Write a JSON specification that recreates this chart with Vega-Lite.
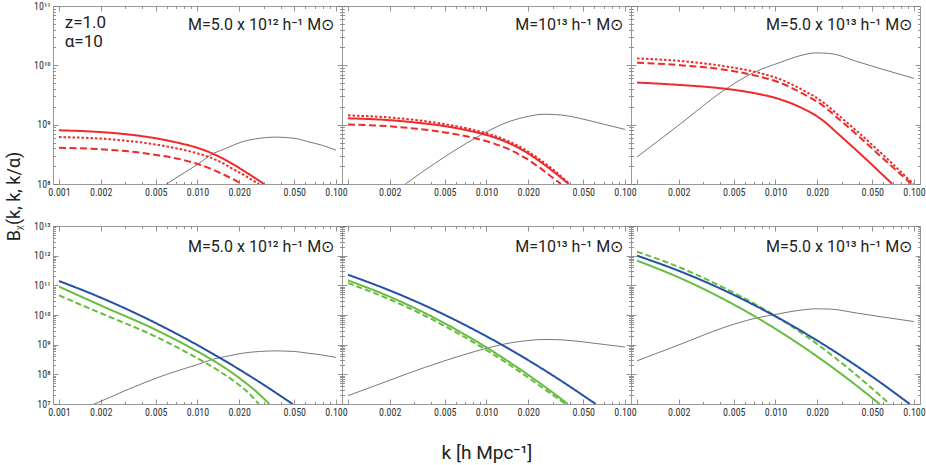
{
  "$schema": "https://vega.github.io/schema/vega-lite/v6.json",
  "padding": {"left": 4, "top": 0, "right": 0, "bottom": 0},
  "columns": 3,
  "spacing": {"row": 42, "column": 0},
  "bounds": "flush",
  "datasets": {
    "gray": [
      {"col": 1, "k": 0.001, "B": 3.98e6}, {"col": 1, "k": 0.0018, "B": 1.0e7}, {"col": 1, "k": 0.003, "B": 2.82e7},
      {"col": 1, "k": 0.006, "B": 1.0e8}, {"col": 1, "k": 0.01, "B": 2.14e8}, {"col": 1, "k": 0.0131, "B": 3.29e8},
      {"col": 1, "k": 0.016, "B": 3.98e8}, {"col": 1, "k": 0.021, "B": 5.13e8}, {"col": 1, "k": 0.028, "B": 5.89e8},
      {"col": 1, "k": 0.0363, "B": 6.17e8}, {"col": 1, "k": 0.05, "B": 5.89e8}, {"col": 1, "k": 0.0635, "B": 5.13e8},
      {"col": 1, "k": 0.08, "B": 4.47e8}, {"col": 1, "k": 0.1, "B": 3.72e8},
      {"col": 2, "k": 0.001, "B": 1.91e7}, {"col": 2, "k": 0.002, "B": 6.31e7}, {"col": 2, "k": 0.0026, "B": 1.0e8},
      {"col": 2, "k": 0.00494, "B": 2.82e8}, {"col": 2, "k": 0.0081, "B": 5.75e8}, {"col": 2, "k": 0.0149, "B": 1.15e9},
      {"col": 2, "k": 0.02, "B": 1.38e9}, {"col": 2, "k": 0.026, "B": 1.5e9}, {"col": 2, "k": 0.035, "B": 1.45e9},
      {"col": 2, "k": 0.0506, "B": 1.23e9}, {"col": 2, "k": 0.07, "B": 1.02e9}, {"col": 2, "k": 0.1, "B": 8.32e8},
      {"col": 3, "k": 0.001, "B": 2.85e8}, {"col": 3, "k": 0.0021, "B": 1.07e9}, {"col": 3, "k": 0.00417, "B": 3.69e9},
      {"col": 3, "k": 0.007, "B": 7.59e9}, {"col": 3, "k": 0.0107, "B": 1.11e10}, {"col": 3, "k": 0.015, "B": 1.45e10},
      {"col": 3, "k": 0.0197, "B": 1.62e10}, {"col": 3, "k": 0.025, "B": 1.58e10}, {"col": 3, "k": 0.0383, "B": 1.17e10},
      {"col": 3, "k": 0.06, "B": 8.51e9}, {"col": 3, "k": 0.1, "B": 6.03e9}
    ],
    "curves": [
      {"row": "top", "col": 1, "series": "solid", "k": 0.001, "B": 8.04e8},
      {"row": "top", "col": 1, "series": "solid", "k": 0.002, "B": 7.5e8},
      {"row": "top", "col": 1, "series": "solid", "k": 0.00316, "B": 6.84e8},
      {"row": "top", "col": 1, "series": "solid", "k": 0.00501, "B": 5.89e8},
      {"row": "top", "col": 1, "series": "solid", "k": 0.00708, "B": 5.01e8},
      {"row": "top", "col": 1, "series": "solid", "k": 0.00933, "B": 4.27e8},
      {"row": "top", "col": 1, "series": "solid", "k": 0.01148, "B": 3.63e8},
      {"row": "top", "col": 1, "series": "solid", "k": 0.0138, "B": 3.02e8},
      {"row": "top", "col": 1, "series": "solid", "k": 0.0178, "B": 2.19e8},
      {"row": "top", "col": 1, "series": "solid", "k": 0.0234, "B": 1.48e8},
      {"row": "top", "col": 1, "series": "solid", "k": 0.0302, "B": 1.0e8},
      {"row": "top", "col": 1, "series": "dotted", "k": 0.001, "B": 6.17e8},
      {"row": "top", "col": 1, "series": "dotted", "k": 0.002, "B": 5.82e8},
      {"row": "top", "col": 1, "series": "dotted", "k": 0.00316, "B": 5.31e8},
      {"row": "top", "col": 1, "series": "dotted", "k": 0.00501, "B": 4.62e8},
      {"row": "top", "col": 1, "series": "dotted", "k": 0.00708, "B": 3.98e8},
      {"row": "top", "col": 1, "series": "dotted", "k": 0.00933, "B": 3.43e8},
      {"row": "top", "col": 1, "series": "dotted", "k": 0.01175, "B": 2.92e8},
      {"row": "top", "col": 1, "series": "dotted", "k": 0.01413, "B": 2.45e8},
      {"row": "top", "col": 1, "series": "dotted", "k": 0.0178, "B": 1.82e8},
      {"row": "top", "col": 1, "series": "dotted", "k": 0.0224, "B": 1.35e8},
      {"row": "top", "col": 1, "series": "dotted", "k": 0.0277, "B": 1.0e8},
      {"row": "top", "col": 1, "series": "dashed", "k": 0.001, "B": 4.07e8},
      {"row": "top", "col": 1, "series": "dashed", "k": 0.002, "B": 3.85e8},
      {"row": "top", "col": 1, "series": "dashed", "k": 0.00316, "B": 3.55e8},
      {"row": "top", "col": 1, "series": "dashed", "k": 0.00501, "B": 3.09e8},
      {"row": "top", "col": 1, "series": "dashed", "k": 0.00708, "B": 2.69e8},
      {"row": "top", "col": 1, "series": "dashed", "k": 0.00933, "B": 2.29e8},
      {"row": "top", "col": 1, "series": "dashed", "k": 0.01175, "B": 1.91e8},
      {"row": "top", "col": 1, "series": "dashed", "k": 0.01479, "B": 1.51e8},
      {"row": "top", "col": 1, "series": "dashed", "k": 0.0178, "B": 1.23e8},
      {"row": "top", "col": 1, "series": "dashed", "k": 0.0209, "B": 1.0e8},
      {"row": "top", "col": 2, "series": "solid", "k": 0.001, "B": 1.28e9},
      {"row": "top", "col": 2, "series": "solid", "k": 0.002, "B": 1.19e9},
      {"row": "top", "col": 2, "series": "solid", "k": 0.00316, "B": 1.08e9},
      {"row": "top", "col": 2, "series": "solid", "k": 0.00501, "B": 9.44e8},
      {"row": "top", "col": 2, "series": "solid", "k": 0.00794, "B": 7.67e8},
      {"row": "top", "col": 2, "series": "solid", "k": 0.01122, "B": 6.17e8},
      {"row": "top", "col": 2, "series": "solid", "k": 0.01479, "B": 4.79e8},
      {"row": "top", "col": 2, "series": "solid", "k": 0.01905, "B": 3.51e8},
      {"row": "top", "col": 2, "series": "solid", "k": 0.024, "B": 2.45e8},
      {"row": "top", "col": 2, "series": "solid", "k": 0.0302, "B": 1.64e8},
      {"row": "top", "col": 2, "series": "solid", "k": 0.0392, "B": 1.0e8},
      {"row": "top", "col": 2, "series": "dotted", "k": 0.001, "B": 1.435e9},
      {"row": "top", "col": 2, "series": "dotted", "k": 0.002, "B": 1.32e9},
      {"row": "top", "col": 2, "series": "dotted", "k": 0.00316, "B": 1.19e9},
      {"row": "top", "col": 2, "series": "dotted", "k": 0.00501, "B": 1.02e9},
      {"row": "top", "col": 2, "series": "dotted", "k": 0.00794, "B": 8.22e8},
      {"row": "top", "col": 2, "series": "dotted", "k": 0.01122, "B": 6.61e8},
      {"row": "top", "col": 2, "series": "dotted", "k": 0.01479, "B": 5.13e8},
      {"row": "top", "col": 2, "series": "dotted", "k": 0.01905, "B": 3.76e8},
      {"row": "top", "col": 2, "series": "dotted", "k": 0.024, "B": 2.63e8},
      {"row": "top", "col": 2, "series": "dotted", "k": 0.0302, "B": 1.76e8},
      {"row": "top", "col": 2, "series": "dotted", "k": 0.0398, "B": 1.0e8},
      {"row": "top", "col": 2, "series": "dashed", "k": 0.001, "B": 1.01e9},
      {"row": "top", "col": 2, "series": "dashed", "k": 0.002, "B": 9.38e8},
      {"row": "top", "col": 2, "series": "dashed", "k": 0.00316, "B": 8.51e8},
      {"row": "top", "col": 2, "series": "dashed", "k": 0.00501, "B": 7.41e8},
      {"row": "top", "col": 2, "series": "dashed", "k": 0.00794, "B": 6.03e8},
      {"row": "top", "col": 2, "series": "dashed", "k": 0.01122, "B": 4.84e8},
      {"row": "top", "col": 2, "series": "dashed", "k": 0.01479, "B": 3.76e8},
      {"row": "top", "col": 2, "series": "dashed", "k": 0.01905, "B": 2.75e8},
      {"row": "top", "col": 2, "series": "dashed", "k": 0.024, "B": 1.91e8},
      {"row": "top", "col": 2, "series": "dashed", "k": 0.0288, "B": 1.38e8},
      {"row": "top", "col": 2, "series": "dashed", "k": 0.0345, "B": 1.0e8},
      {"row": "top", "col": 3, "series": "dotted", "k": 0.001, "B": 1.31e10},
      {"row": "top", "col": 3, "series": "dotted", "k": 0.002, "B": 1.19e10},
      {"row": "top", "col": 3, "series": "dotted", "k": 0.00417, "B": 9.77e9},
      {"row": "top", "col": 3, "series": "dotted", "k": 0.00708, "B": 7.76e9},
      {"row": "top", "col": 3, "series": "dotted", "k": 0.0107, "B": 5.89e9},
      {"row": "top", "col": 3, "series": "dotted", "k": 0.01585, "B": 3.8e9},
      {"row": "top", "col": 3, "series": "dotted", "k": 0.022, "B": 2.4e9},
      {"row": "top", "col": 3, "series": "dotted", "k": 0.0288, "B": 1.41e9},
      {"row": "top", "col": 3, "series": "dotted", "k": 0.0383, "B": 7.94e8},
      {"row": "top", "col": 3, "series": "dotted", "k": 0.0631, "B": 2.75e8},
      {"row": "top", "col": 3, "series": "dotted", "k": 0.099, "B": 1.0e8},
      {"row": "top", "col": 3, "series": "dashed", "k": 0.001, "B": 1.11e10},
      {"row": "top", "col": 3, "series": "dashed", "k": 0.002, "B": 1.01e10},
      {"row": "top", "col": 3, "series": "dashed", "k": 0.00417, "B": 8.51e9},
      {"row": "top", "col": 3, "series": "dashed", "k": 0.00708, "B": 6.76e9},
      {"row": "top", "col": 3, "series": "dashed", "k": 0.0107, "B": 5.13e9},
      {"row": "top", "col": 3, "series": "dashed", "k": 0.01585, "B": 3.31e9},
      {"row": "top", "col": 3, "series": "dashed", "k": 0.022, "B": 2.09e9},
      {"row": "top", "col": 3, "series": "dashed", "k": 0.0288, "B": 1.23e9},
      {"row": "top", "col": 3, "series": "dashed", "k": 0.0383, "B": 6.92e8},
      {"row": "top", "col": 3, "series": "dashed", "k": 0.0631, "B": 2.4e8},
      {"row": "top", "col": 3, "series": "dashed", "k": 0.096, "B": 1.0e8},
      {"row": "top", "col": 3, "series": "solid", "k": 0.001, "B": 5.13e9},
      {"row": "top", "col": 3, "series": "solid", "k": 0.002, "B": 4.68e9},
      {"row": "top", "col": 3, "series": "solid", "k": 0.00417, "B": 4.07e9},
      {"row": "top", "col": 3, "series": "solid", "k": 0.00708, "B": 3.39e9},
      {"row": "top", "col": 3, "series": "solid", "k": 0.0107, "B": 2.69e9},
      {"row": "top", "col": 3, "series": "solid", "k": 0.01585, "B": 1.86e9},
      {"row": "top", "col": 3, "series": "solid", "k": 0.01905, "B": 1.48e9},
      {"row": "top", "col": 3, "series": "solid", "k": 0.022, "B": 1.175e9},
      {"row": "top", "col": 3, "series": "solid", "k": 0.0282, "B": 7.08e8},
      {"row": "top", "col": 3, "series": "solid", "k": 0.0383, "B": 3.72e8},
      {"row": "top", "col": 3, "series": "solid", "k": 0.0697, "B": 1.0e8},
      {"row": "bottom", "col": 1, "series": "blue", "k": 0.001, "B": 1.4e11},
      {"row": "bottom", "col": 1, "series": "blue", "k": 0.001995, "B": 3.88e10},
      {"row": "bottom", "col": 1, "series": "blue", "k": 0.00398, "B": 8.99e9},
      {"row": "bottom", "col": 1, "series": "blue", "k": 0.00794, "B": 1.74e9},
      {"row": "bottom", "col": 1, "series": "blue", "k": 0.01585, "B": 2.82e8},
      {"row": "bottom", "col": 1, "series": "blue", "k": 0.0282, "B": 5.38e7},
      {"row": "bottom", "col": 1, "series": "blue", "k": 0.0486, "B": 1.0e7},
      {"row": "bottom", "col": 1, "series": "green", "k": 0.001, "B": 9.02e10},
      {"row": "bottom", "col": 1, "series": "green", "k": 0.00205, "B": 2.0e10},
      {"row": "bottom", "col": 1, "series": "green", "k": 0.0049, "B": 3.31e9},
      {"row": "bottom", "col": 1, "series": "green", "k": 0.0108, "B": 4.79e8},
      {"row": "bottom", "col": 1, "series": "green", "k": 0.01585, "B": 1.63e8},
      {"row": "bottom", "col": 1, "series": "green", "k": 0.0212, "B": 6.17e7},
      {"row": "bottom", "col": 1, "series": "green", "k": 0.0263, "B": 2.75e7},
      {"row": "bottom", "col": 1, "series": "green", "k": 0.033, "B": 1.0e7},
      {"row": "bottom", "col": 1, "series": "greendash", "k": 0.001, "B": 4.57e10},
      {"row": "bottom", "col": 1, "series": "greendash", "k": 0.00205, "B": 1.1e10},
      {"row": "bottom", "col": 1, "series": "greendash", "k": 0.0049, "B": 1.95e9},
      {"row": "bottom", "col": 1, "series": "greendash", "k": 0.0108, "B": 2.82e8},
      {"row": "bottom", "col": 1, "series": "greendash", "k": 0.01445, "B": 1.26e8},
      {"row": "bottom", "col": 1, "series": "greendash", "k": 0.0188, "B": 5.43e7},
      {"row": "bottom", "col": 1, "series": "greendash", "k": 0.0229, "B": 2.57e7},
      {"row": "bottom", "col": 1, "series": "greendash", "k": 0.0277, "B": 1.0e7},
      {"row": "bottom", "col": 2, "series": "blue", "k": 0.001, "B": 2.27e11},
      {"row": "bottom", "col": 2, "series": "blue", "k": 0.001995, "B": 6.76e10},
      {"row": "bottom", "col": 2, "series": "blue", "k": 0.00398, "B": 1.67e10},
      {"row": "bottom", "col": 2, "series": "blue", "k": 0.00794, "B": 3.39e9},
      {"row": "bottom", "col": 2, "series": "blue", "k": 0.01585, "B": 5.71e8},
      {"row": "bottom", "col": 2, "series": "blue", "k": 0.0316, "B": 7.94e7},
      {"row": "bottom", "col": 2, "series": "blue", "k": 0.0614, "B": 1.0e7},
      {"row": "bottom", "col": 2, "series": "green", "k": 0.001, "B": 1.47e11},
      {"row": "bottom", "col": 2, "series": "green", "k": 0.001995, "B": 4.15e10},
      {"row": "bottom", "col": 2, "series": "green", "k": 0.00398, "B": 9.1e9},
      {"row": "bottom", "col": 2, "series": "green", "k": 0.00794, "B": 1.54e9},
      {"row": "bottom", "col": 2, "series": "green", "k": 0.01585, "B": 2.02e8},
      {"row": "bottom", "col": 2, "series": "green", "k": 0.0251, "B": 4.53e7},
      {"row": "bottom", "col": 2, "series": "green", "k": 0.0387, "B": 1.0e7},
      {"row": "bottom", "col": 2, "series": "greendash", "k": 0.001, "B": 1.19e11},
      {"row": "bottom", "col": 2, "series": "greendash", "k": 0.001995, "B": 3.37e10},
      {"row": "bottom", "col": 2, "series": "greendash", "k": 0.00398, "B": 7.4e9},
      {"row": "bottom", "col": 2, "series": "greendash", "k": 0.00794, "B": 1.25e9},
      {"row": "bottom", "col": 2, "series": "greendash", "k": 0.01585, "B": 1.64e8},
      {"row": "bottom", "col": 2, "series": "greendash", "k": 0.0251, "B": 3.68e7},
      {"row": "bottom", "col": 2, "series": "greendash", "k": 0.0372, "B": 1.0e7},
      {"row": "bottom", "col": 3, "series": "greendash", "k": 0.001, "B": 1.36e12},
      {"row": "bottom", "col": 3, "series": "greendash", "k": 0.001995, "B": 4.17e11},
      {"row": "bottom", "col": 3, "series": "greendash", "k": 0.00398, "B": 9.55e10},
      {"row": "bottom", "col": 3, "series": "greendash", "k": 0.00794, "B": 1.74e10},
      {"row": "bottom", "col": 3, "series": "greendash", "k": 0.01585, "B": 2.28e9},
      {"row": "bottom", "col": 3, "series": "greendash", "k": 0.0316, "B": 2.0e8},
      {"row": "bottom", "col": 3, "series": "greendash", "k": 0.0667, "B": 1.0e7},
      {"row": "bottom", "col": 3, "series": "blue", "k": 0.001, "B": 1.0e12},
      {"row": "bottom", "col": 3, "series": "blue", "k": 0.001995, "B": 3.11e11},
      {"row": "bottom", "col": 3, "series": "blue", "k": 0.00398, "B": 7.85e10},
      {"row": "bottom", "col": 3, "series": "blue", "k": 0.00794, "B": 1.6e10},
      {"row": "bottom", "col": 3, "series": "blue", "k": 0.01585, "B": 2.65e9},
      {"row": "bottom", "col": 3, "series": "blue", "k": 0.0316, "B": 3.54e8},
      {"row": "bottom", "col": 3, "series": "blue", "k": 0.0562, "B": 5.64e7},
      {"row": "bottom", "col": 3, "series": "blue", "k": 0.0931, "B": 1.0e7},
      {"row": "bottom", "col": 3, "series": "green", "k": 0.001, "B": 6.81e11},
      {"row": "bottom", "col": 3, "series": "green", "k": 0.001995, "B": 1.86e11},
      {"row": "bottom", "col": 3, "series": "green", "k": 0.00398, "B": 3.96e10},
      {"row": "bottom", "col": 3, "series": "green", "k": 0.00794, "B": 6.56e9},
      {"row": "bottom", "col": 3, "series": "green", "k": 0.01585, "B": 8.43e8},
      {"row": "bottom", "col": 3, "series": "green", "k": 0.0316, "B": 8.41e7},
      {"row": "bottom", "col": 3, "series": "green", "k": 0.0565, "B": 1.0e7}
    ],
    "notes": [
      {"row": "top", "col": 1, "label": "M=5.0 x 10¹²  h⁻¹ M⊙", "k": 0.097, "B": 4.0e10},
      {"row": "top", "col": 2, "label": "M=10¹³  h⁻¹ M⊙", "k": 0.097, "B": 4.0e10},
      {"row": "top", "col": 3, "label": "M=5.0 x 10¹³  h⁻¹ M⊙", "k": 0.097, "B": 4.0e10},
      {"row": "bottom", "col": 1, "label": "M=5.0 x 10¹²  h⁻¹ M⊙", "k": 0.097, "B": 1.3e12},
      {"row": "bottom", "col": 2, "label": "M=10¹³  h⁻¹ M⊙", "k": 0.097, "B": 1.3e12},
      {"row": "bottom", "col": 3, "label": "M=5.0 x 10¹³  h⁻¹ M⊙", "k": 0.097, "B": 1.3e12}
    ],
    "params": [
      {"label": "z=1.0", "k": 0.0011, "B": 4.3e10},
      {"label": "α=10", "k": 0.0011, "B": 2.06e10}
    ]
  },
  "concat": [
    {
      "width": 289, "height": 178,
      "resolve": {"axis": {"x": "independent", "y": "independent"}},
      "layer": [
        {
          "data": {"name": "gray"},
          "transform": [{"filter": "datum.col == 1"}],
          "mark": {"type": "line", "color": "#555555", "strokeWidth": 0.8, "clip": true, "interpolate": "monotone"},
          "encoding": {
            "x": {"field": "k", "type": "quantitative", "scale": {"type": "log", "domain": [0.000905, 0.1105], "nice": false},
              "axis": {"orient": "bottom", "values": [0.001, 0.002, 0.005, 0.01, 0.02, 0.05, 0.1], "format": ".3f", "tickSize": -5, "labelPadding": 8, "title": null}},
            "y": {"field": "B", "type": "quantitative", "scale": {"type": "log", "domain": [1e8, 1e11], "nice": false},
              "axis": {"orient": "left", "values": [1e8, 1e9, 1e10, 1e11], "tickSize": -5, "labelPadding": 8, "title": null,
                "labelExpr": "'10' + ['⁰','¹','²','³','⁴','⁵','⁶','⁷','⁸','⁹','¹⁰','¹¹','¹²','¹³'][round(log(datum.value)/LN10)]"}}
          }
        },
        {
          "data": {"name": "curves"},
          "transform": [{"filter": "datum.row == 'top' && datum.col == 1"}],
          "mark": {"type": "line", "strokeWidth": 2, "clip": true, "interpolate": "monotone"},
          "encoding": {
            "x": {"field": "k", "type": "quantitative", "scale": {"type": "log", "domain": [0.000905, 0.1105], "nice": false},
              "axis": {"orient": "top", "values": [0.001, 0.002, 0.005, 0.01, 0.02, 0.05, 0.1], "tickSize": -5, "labels": false, "title": null}},
            "y": {"field": "B", "type": "quantitative", "scale": {"type": "log", "domain": [1e8, 1e11], "nice": false},
              "axis": {"orient": "right", "values": [1e8, 1e9, 1e10, 1e11], "tickSize": -5, "labels": false, "title": null}},
            "color": {"field": "series", "type": "nominal", "legend": null,
              "scale": {"domain": ["solid", "dotted", "dashed", "blue", "green", "greendash"], "range": ["#ee2a2a", "#ee2a2a", "#ee2a2a", "#2451a4", "#66bd3f", "#66bd3f"]}},
            "strokeDash": {"field": "series", "type": "nominal", "legend": null,
              "scale": {"domain": ["solid", "dotted", "dashed", "blue", "green", "greendash"], "range": [[1, 0], [2.5, 2], [7, 3.5], [1, 0], [1, 0], [6, 3]]}}
          }
        },
        {
          "data": {"name": "gray"},
          "transform": [{"filter": "datum.col == 1"}],
          "mark": {"type": "line", "opacity": 0, "clip": true},
          "encoding": {
            "x": {"field": "k", "type": "quantitative", "scale": {"type": "log", "domain": [0.000905, 0.1105], "nice": false},
              "axis": {"orient": "bottom", "values": [0.003, 0.004, 0.006, 0.007, 0.008, 0.009, 0.03, 0.04, 0.06, 0.07, 0.08, 0.09], "tickSize": -2.5, "labels": false, "title": null}},
            "y": {"field": "B", "type": "quantitative", "scale": {"type": "log", "domain": [1e8, 1e11], "nice": false},
              "axis": {"orient": "left", "values": [2e8, 3e8, 4e8, 5e8, 6e8, 7e8, 8e8, 9e8, 2e9, 3e9, 4e9, 5e9, 6e9, 7e9, 8e9, 9e9, 2e10, 3e10, 4e10, 5e10, 6e10, 7e10, 8e10, 9e10], "tickSize": -2.5, "labels": false, "title": null}}
          }
        },
        {
          "data": {"name": "gray"},
          "transform": [{"filter": "datum.col == 1"}],
          "mark": {"type": "line", "opacity": 0, "clip": true},
          "encoding": {
            "x": {"field": "k", "type": "quantitative", "scale": {"type": "log", "domain": [0.000905, 0.1105], "nice": false},
              "axis": {"orient": "top", "values": [0.003, 0.004, 0.006, 0.007, 0.008, 0.009, 0.03, 0.04, 0.06, 0.07, 0.08, 0.09], "tickSize": -2.5, "labels": false, "title": null}},
            "y": {"field": "B", "type": "quantitative", "scale": {"type": "log", "domain": [1e8, 1e11], "nice": false},
              "axis": {"orient": "right", "values": [2e8, 3e8, 4e8, 5e8, 6e8, 7e8, 8e8, 9e8, 2e9, 3e9, 4e9, 5e9, 6e9, 7e9, 8e9, 9e9, 2e10, 3e10, 4e10, 5e10, 6e10, 7e10, 8e10, 9e10], "tickSize": -2.5, "labels": false, "title": null}}
          }
        },
        {
          "data": {"name": "notes"},
          "transform": [{"filter": "datum.row == 'top' && datum.col == 1"}],
          "mark": {"type": "text", "align": "right", "baseline": "alphabetic", "font": "Roboto", "fontSize": 16, "color": "#222222"},
          "encoding": {
            "x": {"field": "k", "type": "quantitative", "scale": {"type": "log", "domain": [0.000905, 0.1105], "nice": false}, "axis": null},
            "y": {"field": "B", "type": "quantitative", "scale": {"type": "log", "domain": [1e8, 1e11], "nice": false}, "axis": null},
            "text": {"field": "label"}
          }
        },
        {
          "data": {"name": "params"},
          "mark": {"type": "text", "align": "left", "baseline": "alphabetic", "font": "Roboto", "fontSize": 17, "color": "#222222"},
          "encoding": {
            "x": {"field": "k", "type": "quantitative", "scale": {"type": "log", "domain": [0.000905, 0.1105], "nice": false}, "axis": null},
            "y": {"field": "B", "type": "quantitative", "scale": {"type": "log", "domain": [1e8, 1e11], "nice": false}, "axis": null},
            "text": {"field": "label"}
          }
        }
      ]
    },
    {
      "width": 289, "height": 178,
      "resolve": {"axis": {"x": "independent", "y": "independent"}},
      "layer": [
        {
          "data": {"name": "gray"},
          "transform": [{"filter": "datum.col == 2"}],
          "mark": {"type": "line", "color": "#555555", "strokeWidth": 0.8, "clip": true, "interpolate": "monotone"},
          "encoding": {
            "x": {"field": "k", "type": "quantitative", "scale": {"type": "log", "domain": [0.000905, 0.1105], "nice": false},
              "axis": {"orient": "bottom", "values": [0.001, 0.002, 0.005, 0.01, 0.02, 0.05, 0.1], "labelExpr": "datum.value < 0.0015 ? '' : format(datum.value, '.3f')", "tickSize": -5, "labelPadding": 8, "title": null}},
            "y": {"field": "B", "type": "quantitative", "scale": {"type": "log", "domain": [1e8, 1e11], "nice": false},
              "axis": {"orient": "left", "values": [1e8, 1e9, 1e10, 1e11], "tickSize": -5, "labels": false, "title": null}}
          }
        },
        {
          "data": {"name": "curves"},
          "transform": [{"filter": "datum.row == 'top' && datum.col == 2"}],
          "mark": {"type": "line", "strokeWidth": 2, "clip": true, "interpolate": "monotone"},
          "encoding": {
            "x": {"field": "k", "type": "quantitative", "scale": {"type": "log", "domain": [0.000905, 0.1105], "nice": false},
              "axis": {"orient": "top", "values": [0.001, 0.002, 0.005, 0.01, 0.02, 0.05, 0.1], "tickSize": -5, "labels": false, "title": null}},
            "y": {"field": "B", "type": "quantitative", "scale": {"type": "log", "domain": [1e8, 1e11], "nice": false},
              "axis": {"orient": "right", "values": [1e8, 1e9, 1e10, 1e11], "tickSize": -5, "labels": false, "title": null}},
            "color": {"field": "series", "type": "nominal", "legend": null,
              "scale": {"domain": ["solid", "dotted", "dashed", "blue", "green", "greendash"], "range": ["#ee2a2a", "#ee2a2a", "#ee2a2a", "#2451a4", "#66bd3f", "#66bd3f"]}},
            "strokeDash": {"field": "series", "type": "nominal", "legend": null,
              "scale": {"domain": ["solid", "dotted", "dashed", "blue", "green", "greendash"], "range": [[1, 0], [2.5, 2], [7, 3.5], [1, 0], [1, 0], [6, 3]]}}
          }
        },
        {
          "data": {"name": "gray"},
          "transform": [{"filter": "datum.col == 2"}],
          "mark": {"type": "line", "opacity": 0, "clip": true},
          "encoding": {
            "x": {"field": "k", "type": "quantitative", "scale": {"type": "log", "domain": [0.000905, 0.1105], "nice": false},
              "axis": {"orient": "bottom", "values": [0.003, 0.004, 0.006, 0.007, 0.008, 0.009, 0.03, 0.04, 0.06, 0.07, 0.08, 0.09], "tickSize": -2.5, "labels": false, "title": null}},
            "y": {"field": "B", "type": "quantitative", "scale": {"type": "log", "domain": [1e8, 1e11], "nice": false},
              "axis": {"orient": "left", "values": [2e8, 3e8, 4e8, 5e8, 6e8, 7e8, 8e8, 9e8, 2e9, 3e9, 4e9, 5e9, 6e9, 7e9, 8e9, 9e9, 2e10, 3e10, 4e10, 5e10, 6e10, 7e10, 8e10, 9e10], "tickSize": -2.5, "labels": false, "title": null}}
          }
        },
        {
          "data": {"name": "gray"},
          "transform": [{"filter": "datum.col == 2"}],
          "mark": {"type": "line", "opacity": 0, "clip": true},
          "encoding": {
            "x": {"field": "k", "type": "quantitative", "scale": {"type": "log", "domain": [0.000905, 0.1105], "nice": false},
              "axis": {"orient": "top", "values": [0.003, 0.004, 0.006, 0.007, 0.008, 0.009, 0.03, 0.04, 0.06, 0.07, 0.08, 0.09], "tickSize": -2.5, "labels": false, "title": null}},
            "y": {"field": "B", "type": "quantitative", "scale": {"type": "log", "domain": [1e8, 1e11], "nice": false},
              "axis": {"orient": "right", "values": [2e8, 3e8, 4e8, 5e8, 6e8, 7e8, 8e8, 9e8, 2e9, 3e9, 4e9, 5e9, 6e9, 7e9, 8e9, 9e9, 2e10, 3e10, 4e10, 5e10, 6e10, 7e10, 8e10, 9e10], "tickSize": -2.5, "labels": false, "title": null}}
          }
        },
        {
          "data": {"name": "notes"},
          "transform": [{"filter": "datum.row == 'top' && datum.col == 2"}],
          "mark": {"type": "text", "align": "right", "baseline": "alphabetic", "font": "Roboto", "fontSize": 16, "color": "#222222"},
          "encoding": {
            "x": {"field": "k", "type": "quantitative", "scale": {"type": "log", "domain": [0.000905, 0.1105], "nice": false}, "axis": null},
            "y": {"field": "B", "type": "quantitative", "scale": {"type": "log", "domain": [1e8, 1e11], "nice": false}, "axis": null},
            "text": {"field": "label"}
          }
        }
      ]
    },
    {
      "width": 289, "height": 178,
      "resolve": {"axis": {"x": "independent", "y": "independent"}},
      "layer": [
        {
          "data": {"name": "gray"},
          "transform": [{"filter": "datum.col == 3"}],
          "mark": {"type": "line", "color": "#555555", "strokeWidth": 0.8, "clip": true, "interpolate": "monotone"},
          "encoding": {
            "x": {"field": "k", "type": "quantitative", "scale": {"type": "log", "domain": [0.000905, 0.1105], "nice": false},
              "axis": {"orient": "bottom", "values": [0.001, 0.002, 0.005, 0.01, 0.02, 0.05, 0.1], "labelExpr": "datum.value < 0.0015 ? '' : format(datum.value, '.3f')", "tickSize": -5, "labelPadding": 8, "title": null}},
            "y": {"field": "B", "type": "quantitative", "scale": {"type": "log", "domain": [1e8, 1e11], "nice": false},
              "axis": {"orient": "left", "values": [1e8, 1e9, 1e10, 1e11], "tickSize": -5, "labels": false, "title": null}}
          }
        },
        {
          "data": {"name": "curves"},
          "transform": [{"filter": "datum.row == 'top' && datum.col == 3"}],
          "mark": {"type": "line", "strokeWidth": 2, "clip": true, "interpolate": "monotone"},
          "encoding": {
            "x": {"field": "k", "type": "quantitative", "scale": {"type": "log", "domain": [0.000905, 0.1105], "nice": false},
              "axis": {"orient": "top", "values": [0.001, 0.002, 0.005, 0.01, 0.02, 0.05, 0.1], "tickSize": -5, "labels": false, "title": null}},
            "y": {"field": "B", "type": "quantitative", "scale": {"type": "log", "domain": [1e8, 1e11], "nice": false},
              "axis": {"orient": "right", "values": [1e8, 1e9, 1e10, 1e11], "tickSize": -5, "labels": false, "title": null}},
            "color": {"field": "series", "type": "nominal", "legend": null,
              "scale": {"domain": ["solid", "dotted", "dashed", "blue", "green", "greendash"], "range": ["#ee2a2a", "#ee2a2a", "#ee2a2a", "#2451a4", "#66bd3f", "#66bd3f"]}},
            "strokeDash": {"field": "series", "type": "nominal", "legend": null,
              "scale": {"domain": ["solid", "dotted", "dashed", "blue", "green", "greendash"], "range": [[1, 0], [2.5, 2], [7, 3.5], [1, 0], [1, 0], [6, 3]]}}
          }
        },
        {
          "data": {"name": "gray"},
          "transform": [{"filter": "datum.col == 3"}],
          "mark": {"type": "line", "opacity": 0, "clip": true},
          "encoding": {
            "x": {"field": "k", "type": "quantitative", "scale": {"type": "log", "domain": [0.000905, 0.1105], "nice": false},
              "axis": {"orient": "bottom", "values": [0.003, 0.004, 0.006, 0.007, 0.008, 0.009, 0.03, 0.04, 0.06, 0.07, 0.08, 0.09], "tickSize": -2.5, "labels": false, "title": null}},
            "y": {"field": "B", "type": "quantitative", "scale": {"type": "log", "domain": [1e8, 1e11], "nice": false},
              "axis": {"orient": "left", "values": [2e8, 3e8, 4e8, 5e8, 6e8, 7e8, 8e8, 9e8, 2e9, 3e9, 4e9, 5e9, 6e9, 7e9, 8e9, 9e9, 2e10, 3e10, 4e10, 5e10, 6e10, 7e10, 8e10, 9e10], "tickSize": -2.5, "labels": false, "title": null}}
          }
        },
        {
          "data": {"name": "gray"},
          "transform": [{"filter": "datum.col == 3"}],
          "mark": {"type": "line", "opacity": 0, "clip": true},
          "encoding": {
            "x": {"field": "k", "type": "quantitative", "scale": {"type": "log", "domain": [0.000905, 0.1105], "nice": false},
              "axis": {"orient": "top", "values": [0.003, 0.004, 0.006, 0.007, 0.008, 0.009, 0.03, 0.04, 0.06, 0.07, 0.08, 0.09], "tickSize": -2.5, "labels": false, "title": null}},
            "y": {"field": "B", "type": "quantitative", "scale": {"type": "log", "domain": [1e8, 1e11], "nice": false},
              "axis": {"orient": "right", "values": [2e8, 3e8, 4e8, 5e8, 6e8, 7e8, 8e8, 9e8, 2e9, 3e9, 4e9, 5e9, 6e9, 7e9, 8e9, 9e9, 2e10, 3e10, 4e10, 5e10, 6e10, 7e10, 8e10, 9e10], "tickSize": -2.5, "labels": false, "title": null}}
          }
        },
        {
          "data": {"name": "notes"},
          "transform": [{"filter": "datum.row == 'top' && datum.col == 3"}],
          "mark": {"type": "text", "align": "right", "baseline": "alphabetic", "font": "Roboto", "fontSize": 16, "color": "#222222"},
          "encoding": {
            "x": {"field": "k", "type": "quantitative", "scale": {"type": "log", "domain": [0.000905, 0.1105], "nice": false}, "axis": null},
            "y": {"field": "B", "type": "quantitative", "scale": {"type": "log", "domain": [1e8, 1e11], "nice": false}, "axis": null},
            "text": {"field": "label"}
          }
        }
      ]
    },
    {
      "width": 289, "height": 178,
      "resolve": {"axis": {"x": "independent", "y": "independent"}},
      "layer": [
        {
          "data": {"name": "gray"},
          "transform": [{"filter": "datum.col == 1"}],
          "mark": {"type": "line", "color": "#555555", "strokeWidth": 0.8, "clip": true, "interpolate": "monotone"},
          "encoding": {
            "x": {"field": "k", "type": "quantitative", "scale": {"type": "log", "domain": [0.000905, 0.1105], "nice": false},
              "axis": {"orient": "bottom", "values": [0.001, 0.002, 0.005, 0.01, 0.02, 0.05, 0.1], "format": ".3f", "tickSize": -5, "labelPadding": 8, "title": null}},
            "y": {"field": "B", "type": "quantitative", "scale": {"type": "log", "domain": [1e7, 1e13], "nice": false},
              "axis": {"orient": "left", "values": [1e7, 1e8, 1e9, 1e10, 1e11, 1e12, 1e13], "tickSize": -5, "labelPadding": 8,
                "labelExpr": "'10' + ['⁰','¹','²','³','⁴','⁵','⁶','⁷','⁸','⁹','¹⁰','¹¹','¹²','¹³'][round(log(datum.value)/LN10)]",
                "title": "Bᵪ(k, k, k/α)", "titleX": -30, "titleY": -30, "titleFontSize": 18}}
          }
        },
        {
          "data": {"name": "curves"},
          "transform": [{"filter": "datum.row == 'bottom' && datum.col == 1"}],
          "mark": {"type": "line", "strokeWidth": 2, "clip": true, "interpolate": "monotone"},
          "encoding": {
            "x": {"field": "k", "type": "quantitative", "scale": {"type": "log", "domain": [0.000905, 0.1105], "nice": false},
              "axis": {"orient": "top", "values": [0.001, 0.002, 0.005, 0.01, 0.02, 0.05, 0.1], "tickSize": -5, "labels": false, "title": null}},
            "y": {"field": "B", "type": "quantitative", "scale": {"type": "log", "domain": [1e7, 1e13], "nice": false},
              "axis": {"orient": "right", "values": [1e7, 1e8, 1e9, 1e10, 1e11, 1e12, 1e13], "tickSize": -5, "labels": false, "title": null}},
            "color": {"field": "series", "type": "nominal", "legend": null,
              "scale": {"domain": ["solid", "dotted", "dashed", "blue", "green", "greendash"], "range": ["#ee2a2a", "#ee2a2a", "#ee2a2a", "#2451a4", "#66bd3f", "#66bd3f"]}},
            "strokeDash": {"field": "series", "type": "nominal", "legend": null,
              "scale": {"domain": ["solid", "dotted", "dashed", "blue", "green", "greendash"], "range": [[1, 0], [2.5, 2], [7, 3.5], [1, 0], [1, 0], [6, 3]]}}
          }
        },
        {
          "data": {"name": "gray"},
          "transform": [{"filter": "datum.col == 1"}],
          "mark": {"type": "line", "opacity": 0, "clip": true},
          "encoding": {
            "x": {"field": "k", "type": "quantitative", "scale": {"type": "log", "domain": [0.000905, 0.1105], "nice": false},
              "axis": {"orient": "bottom", "values": [0.003, 0.004, 0.006, 0.007, 0.008, 0.009, 0.03, 0.04, 0.06, 0.07, 0.08, 0.09], "tickSize": -2.5, "labels": false, "title": null}},
            "y": {"field": "B", "type": "quantitative", "scale": {"type": "log", "domain": [1e7, 1e13], "nice": false},
              "axis": {"orient": "left", "values": [2e7, 3e7, 4e7, 5e7, 6e7, 7e7, 8e7, 9e7, 2e8, 3e8, 4e8, 5e8, 6e8, 7e8, 8e8, 9e8, 2e9, 3e9, 4e9, 5e9, 6e9, 7e9, 8e9, 9e9, 2e10, 3e10, 4e10, 5e10, 6e10, 7e10, 8e10, 9e10, 2e11, 3e11, 4e11, 5e11, 6e11, 7e11, 8e11, 9e11, 2e12, 3e12, 4e12, 5e12, 6e12, 7e12, 8e12, 9e12], "tickSize": -2.5, "labels": false, "title": null}}
          }
        },
        {
          "data": {"name": "gray"},
          "transform": [{"filter": "datum.col == 1"}],
          "mark": {"type": "line", "opacity": 0, "clip": true},
          "encoding": {
            "x": {"field": "k", "type": "quantitative", "scale": {"type": "log", "domain": [0.000905, 0.1105], "nice": false},
              "axis": {"orient": "top", "values": [0.003, 0.004, 0.006, 0.007, 0.008, 0.009, 0.03, 0.04, 0.06, 0.07, 0.08, 0.09], "tickSize": -2.5, "labels": false, "title": null}},
            "y": {"field": "B", "type": "quantitative", "scale": {"type": "log", "domain": [1e7, 1e13], "nice": false},
              "axis": {"orient": "right", "values": [2e7, 3e7, 4e7, 5e7, 6e7, 7e7, 8e7, 9e7, 2e8, 3e8, 4e8, 5e8, 6e8, 7e8, 8e8, 9e8, 2e9, 3e9, 4e9, 5e9, 6e9, 7e9, 8e9, 9e9, 2e10, 3e10, 4e10, 5e10, 6e10, 7e10, 8e10, 9e10, 2e11, 3e11, 4e11, 5e11, 6e11, 7e11, 8e11, 9e11, 2e12, 3e12, 4e12, 5e12, 6e12, 7e12, 8e12, 9e12], "tickSize": -2.5, "labels": false, "title": null}}
          }
        },
        {
          "data": {"name": "notes"},
          "transform": [{"filter": "datum.row == 'bottom' && datum.col == 1"}],
          "mark": {"type": "text", "align": "right", "baseline": "alphabetic", "font": "Roboto", "fontSize": 16, "color": "#222222"},
          "encoding": {
            "x": {"field": "k", "type": "quantitative", "scale": {"type": "log", "domain": [0.000905, 0.1105], "nice": false}, "axis": null},
            "y": {"field": "B", "type": "quantitative", "scale": {"type": "log", "domain": [1e7, 1e13], "nice": false}, "axis": null},
            "text": {"field": "label"}
          }
        }
      ]
    },
    {
      "width": 289, "height": 178,
      "resolve": {"axis": {"x": "independent", "y": "independent"}},
      "layer": [
        {
          "data": {"name": "gray"},
          "transform": [{"filter": "datum.col == 2"}],
          "mark": {"type": "line", "color": "#555555", "strokeWidth": 0.8, "clip": true, "interpolate": "monotone"},
          "encoding": {
            "x": {"field": "k", "type": "quantitative", "scale": {"type": "log", "domain": [0.000905, 0.1105], "nice": false},
              "axis": {"orient": "bottom", "values": [0.001, 0.002, 0.005, 0.01, 0.02, 0.05, 0.1], "labelExpr": "datum.value < 0.0015 ? '' : format(datum.value, '.3f')", "tickSize": -5, "labelPadding": 8,
                "title": "k  [h Mpc⁻¹]", "titlePadding": 26, "titleFontSize": 19}},
            "y": {"field": "B", "type": "quantitative", "scale": {"type": "log", "domain": [1e7, 1e13], "nice": false},
              "axis": {"orient": "left", "values": [1e7, 1e8, 1e9, 1e10, 1e11, 1e12, 1e13], "tickSize": -5, "labels": false, "title": null}}
          }
        },
        {
          "data": {"name": "curves"},
          "transform": [{"filter": "datum.row == 'bottom' && datum.col == 2"}],
          "mark": {"type": "line", "strokeWidth": 2, "clip": true, "interpolate": "monotone"},
          "encoding": {
            "x": {"field": "k", "type": "quantitative", "scale": {"type": "log", "domain": [0.000905, 0.1105], "nice": false},
              "axis": {"orient": "top", "values": [0.001, 0.002, 0.005, 0.01, 0.02, 0.05, 0.1], "tickSize": -5, "labels": false, "title": null}},
            "y": {"field": "B", "type": "quantitative", "scale": {"type": "log", "domain": [1e7, 1e13], "nice": false},
              "axis": {"orient": "right", "values": [1e7, 1e8, 1e9, 1e10, 1e11, 1e12, 1e13], "tickSize": -5, "labels": false, "title": null}},
            "color": {"field": "series", "type": "nominal", "legend": null,
              "scale": {"domain": ["solid", "dotted", "dashed", "blue", "green", "greendash"], "range": ["#ee2a2a", "#ee2a2a", "#ee2a2a", "#2451a4", "#66bd3f", "#66bd3f"]}},
            "strokeDash": {"field": "series", "type": "nominal", "legend": null,
              "scale": {"domain": ["solid", "dotted", "dashed", "blue", "green", "greendash"], "range": [[1, 0], [2.5, 2], [7, 3.5], [1, 0], [1, 0], [6, 3]]}}
          }
        },
        {
          "data": {"name": "gray"},
          "transform": [{"filter": "datum.col == 2"}],
          "mark": {"type": "line", "opacity": 0, "clip": true},
          "encoding": {
            "x": {"field": "k", "type": "quantitative", "scale": {"type": "log", "domain": [0.000905, 0.1105], "nice": false},
              "axis": {"orient": "bottom", "values": [0.003, 0.004, 0.006, 0.007, 0.008, 0.009, 0.03, 0.04, 0.06, 0.07, 0.08, 0.09], "tickSize": -2.5, "labels": false, "title": null}},
            "y": {"field": "B", "type": "quantitative", "scale": {"type": "log", "domain": [1e7, 1e13], "nice": false},
              "axis": {"orient": "left", "values": [2e7, 3e7, 4e7, 5e7, 6e7, 7e7, 8e7, 9e7, 2e8, 3e8, 4e8, 5e8, 6e8, 7e8, 8e8, 9e8, 2e9, 3e9, 4e9, 5e9, 6e9, 7e9, 8e9, 9e9, 2e10, 3e10, 4e10, 5e10, 6e10, 7e10, 8e10, 9e10, 2e11, 3e11, 4e11, 5e11, 6e11, 7e11, 8e11, 9e11, 2e12, 3e12, 4e12, 5e12, 6e12, 7e12, 8e12, 9e12], "tickSize": -2.5, "labels": false, "title": null}}
          }
        },
        {
          "data": {"name": "gray"},
          "transform": [{"filter": "datum.col == 2"}],
          "mark": {"type": "line", "opacity": 0, "clip": true},
          "encoding": {
            "x": {"field": "k", "type": "quantitative", "scale": {"type": "log", "domain": [0.000905, 0.1105], "nice": false},
              "axis": {"orient": "top", "values": [0.003, 0.004, 0.006, 0.007, 0.008, 0.009, 0.03, 0.04, 0.06, 0.07, 0.08, 0.09], "tickSize": -2.5, "labels": false, "title": null}},
            "y": {"field": "B", "type": "quantitative", "scale": {"type": "log", "domain": [1e7, 1e13], "nice": false},
              "axis": {"orient": "right", "values": [2e7, 3e7, 4e7, 5e7, 6e7, 7e7, 8e7, 9e7, 2e8, 3e8, 4e8, 5e8, 6e8, 7e8, 8e8, 9e8, 2e9, 3e9, 4e9, 5e9, 6e9, 7e9, 8e9, 9e9, 2e10, 3e10, 4e10, 5e10, 6e10, 7e10, 8e10, 9e10, 2e11, 3e11, 4e11, 5e11, 6e11, 7e11, 8e11, 9e11, 2e12, 3e12, 4e12, 5e12, 6e12, 7e12, 8e12, 9e12], "tickSize": -2.5, "labels": false, "title": null}}
          }
        },
        {
          "data": {"name": "notes"},
          "transform": [{"filter": "datum.row == 'bottom' && datum.col == 2"}],
          "mark": {"type": "text", "align": "right", "baseline": "alphabetic", "font": "Roboto", "fontSize": 16, "color": "#222222"},
          "encoding": {
            "x": {"field": "k", "type": "quantitative", "scale": {"type": "log", "domain": [0.000905, 0.1105], "nice": false}, "axis": null},
            "y": {"field": "B", "type": "quantitative", "scale": {"type": "log", "domain": [1e7, 1e13], "nice": false}, "axis": null},
            "text": {"field": "label"}
          }
        }
      ]
    },
    {
      "width": 289, "height": 178,
      "resolve": {"axis": {"x": "independent", "y": "independent"}},
      "layer": [
        {
          "data": {"name": "gray"},
          "transform": [{"filter": "datum.col == 3"}],
          "mark": {"type": "line", "color": "#555555", "strokeWidth": 0.8, "clip": true, "interpolate": "monotone"},
          "encoding": {
            "x": {"field": "k", "type": "quantitative", "scale": {"type": "log", "domain": [0.000905, 0.1105], "nice": false},
              "axis": {"orient": "bottom", "values": [0.001, 0.002, 0.005, 0.01, 0.02, 0.05, 0.1], "labelExpr": "datum.value < 0.0015 ? '' : format(datum.value, '.3f')", "tickSize": -5, "labelPadding": 8, "title": null}},
            "y": {"field": "B", "type": "quantitative", "scale": {"type": "log", "domain": [1e7, 1e13], "nice": false},
              "axis": {"orient": "left", "values": [1e7, 1e8, 1e9, 1e10, 1e11, 1e12, 1e13], "tickSize": -5, "labels": false, "title": null}}
          }
        },
        {
          "data": {"name": "curves"},
          "transform": [{"filter": "datum.row == 'bottom' && datum.col == 3"}],
          "mark": {"type": "line", "strokeWidth": 2, "clip": true, "interpolate": "monotone"},
          "encoding": {
            "x": {"field": "k", "type": "quantitative", "scale": {"type": "log", "domain": [0.000905, 0.1105], "nice": false},
              "axis": {"orient": "top", "values": [0.001, 0.002, 0.005, 0.01, 0.02, 0.05, 0.1], "tickSize": -5, "labels": false, "title": null}},
            "y": {"field": "B", "type": "quantitative", "scale": {"type": "log", "domain": [1e7, 1e13], "nice": false},
              "axis": {"orient": "right", "values": [1e7, 1e8, 1e9, 1e10, 1e11, 1e12, 1e13], "tickSize": -5, "labels": false, "title": null}},
            "color": {"field": "series", "type": "nominal", "legend": null,
              "scale": {"domain": ["solid", "dotted", "dashed", "blue", "green", "greendash"], "range": ["#ee2a2a", "#ee2a2a", "#ee2a2a", "#2451a4", "#66bd3f", "#66bd3f"]}},
            "strokeDash": {"field": "series", "type": "nominal", "legend": null,
              "scale": {"domain": ["solid", "dotted", "dashed", "blue", "green", "greendash"], "range": [[1, 0], [2.5, 2], [7, 3.5], [1, 0], [1, 0], [6, 3]]}}
          }
        },
        {
          "data": {"name": "gray"},
          "transform": [{"filter": "datum.col == 3"}],
          "mark": {"type": "line", "opacity": 0, "clip": true},
          "encoding": {
            "x": {"field": "k", "type": "quantitative", "scale": {"type": "log", "domain": [0.000905, 0.1105], "nice": false},
              "axis": {"orient": "bottom", "values": [0.003, 0.004, 0.006, 0.007, 0.008, 0.009, 0.03, 0.04, 0.06, 0.07, 0.08, 0.09], "tickSize": -2.5, "labels": false, "title": null}},
            "y": {"field": "B", "type": "quantitative", "scale": {"type": "log", "domain": [1e7, 1e13], "nice": false},
              "axis": {"orient": "left", "values": [2e7, 3e7, 4e7, 5e7, 6e7, 7e7, 8e7, 9e7, 2e8, 3e8, 4e8, 5e8, 6e8, 7e8, 8e8, 9e8, 2e9, 3e9, 4e9, 5e9, 6e9, 7e9, 8e9, 9e9, 2e10, 3e10, 4e10, 5e10, 6e10, 7e10, 8e10, 9e10, 2e11, 3e11, 4e11, 5e11, 6e11, 7e11, 8e11, 9e11, 2e12, 3e12, 4e12, 5e12, 6e12, 7e12, 8e12, 9e12], "tickSize": -2.5, "labels": false, "title": null}}
          }
        },
        {
          "data": {"name": "gray"},
          "transform": [{"filter": "datum.col == 3"}],
          "mark": {"type": "line", "opacity": 0, "clip": true},
          "encoding": {
            "x": {"field": "k", "type": "quantitative", "scale": {"type": "log", "domain": [0.000905, 0.1105], "nice": false},
              "axis": {"orient": "top", "values": [0.003, 0.004, 0.006, 0.007, 0.008, 0.009, 0.03, 0.04, 0.06, 0.07, 0.08, 0.09], "tickSize": -2.5, "labels": false, "title": null}},
            "y": {"field": "B", "type": "quantitative", "scale": {"type": "log", "domain": [1e7, 1e13], "nice": false},
              "axis": {"orient": "right", "values": [2e7, 3e7, 4e7, 5e7, 6e7, 7e7, 8e7, 9e7, 2e8, 3e8, 4e8, 5e8, 6e8, 7e8, 8e8, 9e8, 2e9, 3e9, 4e9, 5e9, 6e9, 7e9, 8e9, 9e9, 2e10, 3e10, 4e10, 5e10, 6e10, 7e10, 8e10, 9e10, 2e11, 3e11, 4e11, 5e11, 6e11, 7e11, 8e11, 9e11, 2e12, 3e12, 4e12, 5e12, 6e12, 7e12, 8e12, 9e12], "tickSize": -2.5, "labels": false, "title": null}}
          }
        },
        {
          "data": {"name": "notes"},
          "transform": [{"filter": "datum.row == 'bottom' && datum.col == 3"}],
          "mark": {"type": "text", "align": "right", "baseline": "alphabetic", "font": "Roboto", "fontSize": 16, "color": "#222222"},
          "encoding": {
            "x": {"field": "k", "type": "quantitative", "scale": {"type": "log", "domain": [0.000905, 0.1105], "nice": false}, "axis": null},
            "y": {"field": "B", "type": "quantitative", "scale": {"type": "log", "domain": [1e7, 1e13], "nice": false}, "axis": null},
            "text": {"field": "label"}
          }
        }
      ]
    }
  ],
  "config": {
    "view": {"stroke": "#9a9a9a", "strokeWidth": 1},
    "axis": {
      "domain": false, "grid": false, "labelFlush": false, "labelOverlap": false,
      "labelFont": "Liberation Sans Narrow, Roboto Condensed, Roboto", "labelFontSize": 10, "labelColor": "#333333",
      "tickColor": "#777777", "tickWidth": 0.8,
      "titleFont": "Roboto", "titleFontWeight": "normal", "titleColor": "#222222"
    }
  }
}
